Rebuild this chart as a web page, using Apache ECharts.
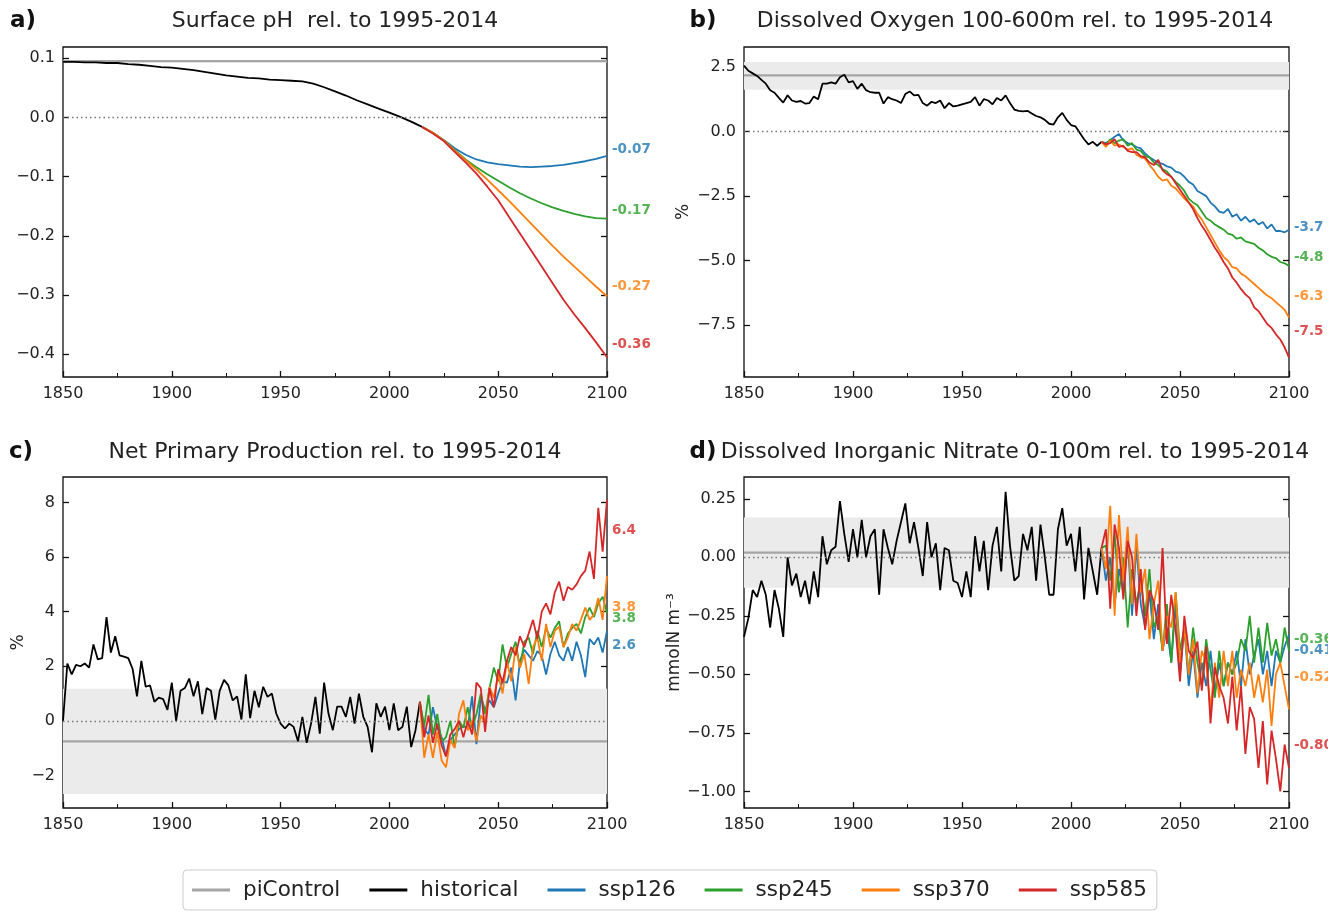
<!DOCTYPE html>
<html><head><meta charset="utf-8">
<script src="https://cdn.jsdelivr.net/npm/echarts@6/dist/echarts.min.js"></script>
<style>html,body{margin:0;padding:0;background:#fff}#chart{width:1328px;height:911px}</style>
</head><body><div id="chart"></div>
<script>
// ---------- DATA ----------
const legendNames = ['piControl','historical','ssp126','ssp245','ssp370','ssp585'];
const scenarioNames = ['ssp126','ssp245','ssp370','ssp585'];

// Panel a: Surface pH (5-year samples; historical from 1850, scenarios from 2015)
const phHist = [0.094,0.094,0.093,0.093,0.092,0.092,0.090,0.089,0.087,0.085,
  0.084,0.082,0.080,0.077,0.074,0.071,0.069,0.067,0.066,0.064,
  0.063,0.062,0.061,0.057,0.051,0.044,0.037,0.029,0.022,0.015,
  0.008,0.001,-0.007,-0.016];
const phSsp126 = [-0.016,-0.026,-0.038,-0.052,-0.063,-0.071,-0.076,-0.079,-0.081,-0.083,-0.084,-0.083,-0.082,-0.080,-0.077,-0.074,-0.070,-0.065];
const phSsp245 = [-0.016,-0.026,-0.039,-0.055,-0.071,-0.084,-0.096,-0.107,-0.118,-0.128,-0.137,-0.145,-0.152,-0.158,-0.163,-0.167,-0.170,-0.171];
const phSsp370 = [-0.016,-0.026,-0.039,-0.056,-0.072,-0.088,-0.105,-0.123,-0.141,-0.160,-0.179,-0.198,-0.217,-0.235,-0.252,-0.269,-0.286,-0.302];
const phSsp585 = [-0.016,-0.027,-0.040,-0.058,-0.076,-0.095,-0.117,-0.140,-0.168,-0.196,-0.224,-0.252,-0.280,-0.308,-0.333,-0.356,-0.380,-0.405];

// Panel b: Dissolved oxygen (2-year samples; historical 1850-2014, scenarios 2014-2100)
const oxyHist = [2.55,2.35,2.25,2.15,2.0,1.85,1.6,1.5,1.3,1.12,
  1.4,1.2,1.15,1.18,1.08,1.1,1.35,1.25,1.85,1.85,
  1.9,1.85,2.1,2.2,1.9,1.95,1.65,1.85,1.6,1.52,
  1.5,1.5,1.08,1.33,1.25,1.2,1.1,1.45,1.55,1.4,
  1.42,1.1,1.0,1.15,1.1,1.2,0.9,1.1,0.97,1.0,
  1.05,1.1,1.15,1.33,1.0,1.25,1.2,1.05,1.3,1.2,
  1.4,1.1,0.85,0.8,0.78,0.8,0.7,0.6,0.55,0.45,
  0.3,0.27,0.55,0.72,0.45,0.25,0.2,-0.05,-0.3,-0.5,
  -0.4,-0.55,-0.4];
const oxySsp126 = [-0.4,-0.45,-0.35,-0.2,-0.1,-0.35,-0.45,-0.5,-0.6,-0.65,
  -0.85,-1.0,-1.1,-1.2,-1.25,-1.35,-1.4,-1.55,-1.6,-1.75,
  -1.95,-2.05,-2.3,-2.4,-2.5,-2.75,-2.9,-3.1,-3.15,-3.0,
  -3.3,-3.2,-3.45,-3.3,-3.5,-3.4,-3.6,-3.5,-3.75,-3.6,
  -3.85,-3.85,-3.9,-3.8];
const oxySsp245 = [-0.4,-0.5,-0.3,-0.45,-0.35,-0.3,-0.55,-0.45,-0.7,-0.75,
  -0.95,-1.0,-1.2,-1.3,-1.45,-1.55,-1.75,-1.95,-2.1,-2.3,
  -2.6,-2.75,-2.85,-3.1,-3.35,-3.45,-3.6,-3.7,-3.8,-3.95,
  -4.0,-4.15,-4.1,-4.25,-4.3,-4.35,-4.5,-4.6,-4.75,-4.85,
  -4.9,-5.05,-5.1,-5.2];
const oxySsp370 = [-0.4,-0.6,-0.35,-0.55,-0.5,-0.6,-0.7,-0.65,-0.9,-1.0,
  -1.05,-1.3,-1.5,-1.75,-1.9,-1.85,-2.1,-2.2,-2.4,-2.6,
  -2.75,-2.9,-3.2,-3.4,-3.7,-4.0,-4.3,-4.6,-4.85,-5.0,
  -5.25,-5.3,-5.5,-5.6,-5.75,-5.9,-6.05,-6.2,-6.35,-6.45,
  -6.6,-6.75,-6.9,-7.2];
const oxySsp585 = [-0.4,-0.5,-0.45,-0.3,-0.6,-0.55,-0.75,-0.8,-0.8,-0.95,
  -1.0,-1.2,-1.3,-1.1,-1.5,-1.65,-1.75,-2.0,-2.25,-2.5,
  -2.75,-3.0,-3.35,-3.65,-3.9,-4.2,-4.5,-4.75,-5.05,-5.3,
  -5.65,-5.85,-6.1,-6.3,-6.45,-6.8,-6.95,-7.2,-7.45,-7.6,
  -7.85,-8.05,-8.35,-8.75];

// Panel c: Net primary production
const nppHist = [0.0,2.1,1.7,2.05,2.0,2.1,1.95,2.8,2.25,2.3,
  3.8,2.5,3.1,2.4,2.35,2.3,1.9,0.9,2.2,1.25,
  1.3,0.7,0.85,0.8,0.4,1.4,0.0,1.1,1.2,1.55,
  0.9,1.45,0.25,1.2,1.1,0.05,1.1,1.5,1.3,0.75,
  0.9,0.05,1.7,0.1,1.1,0.5,1.25,0.88,1.0,0.27,
  -0.1,-0.28,-0.1,-0.22,-0.75,0.15,-0.8,-0.1,0.88,-0.47,
  1.4,0.27,-0.34,0.52,0.52,0.15,0.88,-0.1,1.0,0.15,
  -0.22,-1.15,0.64,0.15,0.52,-0.34,0.64,-0.34,-0.22,0.52,
  -0.96,-0.34,0.7];
const nppSsp126 = [0.7,-0.3,-0.5,0.5,-0.25,-0.6,-1.3,-0.7,-0.5,-0.3,
  -0.2,-0.25,0.9,-0.85,0.85,0.4,0.75,0.5,1.0,1.45,
  1.4,1.95,0.75,2.2,2.6,2.4,2.2,2.55,2.4,1.7,
  2.45,2.9,2.4,2.2,2.7,2.2,2.9,2.4,1.6,3.0,
  2.8,3.05,2.5,3.3];
const nppSsp245 = [0.7,-0.2,0.95,-0.5,0.25,-0.75,-0.6,0.0,-0.95,0.0,
  -0.25,0.5,-0.25,0.25,1.0,0.25,1.2,1.95,1.45,2.8,
  1.95,2.45,2.9,1.95,2.9,3.05,2.45,3.3,2.7,3.4,
  3.05,3.4,3.65,2.7,3.2,3.4,3.55,3.2,3.8,4.15,
  3.8,4.3,4.55,3.95];
const nppSsp370 = [0.7,-1.35,-0.5,-1.35,-0.4,-1.45,-1.7,-0.7,-1.0,0.25,
  0.75,-0.35,0.0,-0.75,0.2,-0.1,1.25,0.85,1.7,1.0,
  2.2,1.45,2.7,1.95,2.45,1.35,2.7,3.05,2.2,3.55,
  2.7,3.3,3.45,2.7,3.05,3.55,3.3,3.7,4.15,3.7,
  3.9,4.5,3.7,5.3];
const nppSsp585 = [0.7,-0.6,0.2,-0.8,-0.1,-0.9,-1.3,-0.5,-0.3,0.0,
  -0.6,0.0,-0.5,1.4,1.2,-0.4,1.2,0.5,1.9,1.4,
  2.2,2.7,2.4,3.1,2.7,3.2,3.7,3.0,4.0,4.3,
  3.9,4.7,5.1,4.4,4.9,4.8,5.0,5.3,5.5,6.2,
  5.2,7.8,6.2,8.1];

// Panel d: Dissolved inorganic nitrate 0-100m
const no3Hist = [-0.34,-0.26,-0.14,-0.17,-0.1,-0.16,-0.3,-0.14,-0.22,-0.34,
  0.0,-0.12,-0.07,-0.17,-0.1,-0.2,-0.06,-0.17,0.09,-0.03,
  0.03,0.045,0.24,0.1,-0.02,0.12,0.0,0.16,0.0,0.09,
  0.12,-0.16,0.12,0.04,-0.03,0.07,0.15,0.23,0.06,0.15,
  0.04,-0.08,0.15,0.0,0.06,-0.14,0.04,0.03,-0.1,-0.11,
  -0.17,-0.06,-0.17,0.09,-0.06,0.07,-0.14,0.05,0.13,-0.06,
  0.28,0.05,-0.1,-0.08,0.1,0.03,0.13,-0.1,0.14,0.0,
  -0.16,-0.16,0.12,0.21,0.05,0.1,-0.06,0.13,-0.18,0.04,
  -0.06,-0.16,0.04];
const no3Ssp126 = [0.04,-0.1,0.0,-0.2,-0.05,-0.15,0.08,-0.25,0.05,-0.2,
  -0.3,-0.15,-0.35,-0.2,-0.4,-0.3,-0.45,-0.2,-0.5,-0.3,
  -0.55,-0.4,-0.6,-0.45,-0.55,-0.4,-0.58,-0.45,-0.55,-0.45,
  -0.5,-0.4,-0.55,-0.35,-0.5,-0.42,-0.35,-0.5,-0.4,-0.55,
  -0.4,-0.45,-0.38,-0.33];
const no3Ssp245 = [0.04,0.05,-0.1,0.1,-0.15,0.0,-0.3,-0.05,-0.2,-0.1,
  -0.25,-0.05,-0.3,-0.25,-0.4,-0.2,-0.45,-0.15,-0.4,-0.3,
  -0.5,-0.3,-0.45,-0.55,-0.35,-0.48,-0.6,-0.4,-0.55,-0.45,
  -0.5,-0.45,-0.35,-0.4,-0.25,-0.45,-0.3,-0.45,-0.28,-0.42,
  -0.35,-0.45,-0.3,-0.4];
const no3Ssp370 = [0.04,-0.05,0.22,-0.25,0.18,-0.1,0.13,-0.2,0.1,-0.15,
  -0.05,-0.35,-0.2,-0.1,-0.4,-0.25,-0.3,-0.15,-0.45,-0.3,
  -0.5,-0.35,-0.58,-0.4,-0.45,-0.65,-0.45,-0.6,-0.4,-0.55,
  -0.4,-0.6,-0.48,-0.55,-0.45,-0.6,-0.5,-0.62,-0.48,-0.72,
  -0.5,-0.45,-0.55,-0.65];
const no3Ssp585 = [0.04,0.12,-0.22,0.14,0.04,-0.18,0.07,0.0,-0.25,-0.05,
  -0.31,-0.14,-0.19,-0.31,0.04,-0.37,-0.16,-0.31,-0.53,-0.25,
  -0.4,-0.43,-0.36,-0.57,-0.38,-0.71,-0.47,-0.55,-0.6,-0.71,
  -0.51,-0.74,-0.55,-0.84,-0.64,-0.69,-0.9,-0.7,-0.97,-0.74,
  -0.86,-1.0,-0.8,-0.9];

// piControl mean and spread, per panel a-d
const piControlMean = [0.095, 2.17, -0.75, 0.02];
const piControlLow  = [0.093, 1.62, -2.68, -0.13];
const piControlHigh = [0.097, 2.69, 1.18, 0.17];

// 2081-2100 change labels (order: ssp126, ssp245, ssp370, ssp585) and their anchor values
const endLabelText = [
  ['-0.07','-0.17','-0.27','-0.36'],
  ['-3.7','-4.8','-6.3','-7.5'],
  ['2.6','3.8','3.8','6.4'],
  ['-0.41','-0.36','-0.52','-0.80']
];
const endLabelAnchor = [
  [-0.054,-0.157,-0.285,-0.384],
  [-3.72,-4.88,-6.40,-7.75],
  [2.76,3.75,4.15,6.98],
  [-0.398,-0.351,-0.514,-0.805]
];

// tick values and labels
const yTicksA = [0.1,0.0,-0.1,-0.2,-0.3,-0.4];
const yLabelsA = ['0.1','0.0','\u22120.1','\u22120.2','\u22120.3','\u22120.4'];
const yTicksB = [2.5,0,-2.5,-5,-7.5];
const yLabelsB = ['2.5','0.0','\u22122.5','\u22125.0','\u22127.5'];
const yTicksC = [8,6,4,2,0,-2];
const yLabelsC = ['8','6','4','2','0','\u22122'];
const yTicksD = [0.25,0,-0.25,-0.5,-0.75,-1.0];
const yLabelsD = ['0.25','0.00','\u22120.25','\u22120.50','\u22120.75','\u22121.00'];
const titles = ['Surface pH  rel. to 1995-2014','Dissolved Oxygen 100-600m rel. to 1995-2014',
  'Net Primary Production rel. to 1995-2014','Dissolved Inorganic Nitrate 0-100m rel. to 1995-2014'];
const tags = ['a)','b)','c)','d)'];
const yNames = ['', '%', '%', 'mmolN m\u207B\u00B3'];

// ---------- LAYOUT / STYLE ----------
const FONT = '"DejaVu Sans", sans-serif';
const colors = {piControl:'#a5a5a5', historical:'#000000', ssp126:'#1f77b4', ssp245:'#2ca02c', ssp370:'#ff7f0e', ssp585:'#d62728'};
const panels = [
  {grid:{left:63, top:47, width:544, height:330}, ymin:-0.4385, ymax:0.119, ticks:yTicksA, labels:yLabelsA,
   hist:phHist, histStart:1850, histStep:5, scen:[phSsp126,phSsp245,phSsp370,phSsp585], scenStart:2015, scenStep:5,
   titleX:335, titleY:21, tagX:23, nameGap:50},
  {grid:{left:744, top:47, width:545, height:330}, ymin:-9.5, ymax:3.27, ticks:yTicksB, labels:yLabelsB,
   hist:oxyHist, histStart:1850, histStep:2, scen:[oxySsp126,oxySsp245,oxySsp370,oxySsp585], scenStart:2014, scenStep:2,
   titleX:1015, titleY:21, tagX:703, nameGap:52},
  {grid:{left:63, top:477, width:544, height:331}, ymin:-3.19, ymax:8.93, ticks:yTicksC, labels:yLabelsC,
   hist:nppHist, histStart:1850, histStep:2, scen:[nppSsp126,nppSsp245,nppSsp370,nppSsp585], scenStart:2014, scenStep:2,
   titleX:335, titleY:452, tagX:21, nameGap:36},
  {grid:{left:744, top:477, width:545, height:331}, ymin:-1.071, ymax:0.343, ticks:yTicksD, labels:yLabelsD,
   hist:no3Hist, histStart:1850, histStep:2, scen:[no3Ssp126,no3Ssp245,no3Ssp370,no3Ssp585], scenStart:2014, scenStep:2,
   titleX:1015, titleY:452, tagX:703, nameGap:58}
];

function pairs(vals, start, step){ return vals.map((v,i)=>[start+i*step, v]); }
function labelFormatter(ticks, labels){
  return function(v){ let b=0; for(let k=1;k<ticks.length;k++){ if(Math.abs(ticks[k]-v)<Math.abs(ticks[b]-v)) b=k; } return labels[b]; };
}

const grids=[], xAxes=[], yAxes=[], series=[], graphics=[];
panels.forEach((p,i)=>{
  grids.push(Object.assign({show:true, borderColor:'#111', borderWidth:1.3, backgroundColor:'transparent'}, p.grid));
  xAxes.push({type:'value', gridIndex:i, min:1850, max:2100, interval:50, position:'bottom',
    axisLine:{show:false, onZero:false}, splitLine:{show:false},
    axisTick:{show:true, inside:true, length:6, lineStyle:{color:'#111', width:1.3}},
    minorTick:{show:true, splitNumber:2, length:4, lineStyle:{color:'#111', width:1}},
    minorSplitLine:{show:false},
    axisLabel:{fontSize:16, color:'#222', fontFamily:FONT, margin:9, formatter:v=>String(v)}});
  const common = {type:'value', gridIndex:i, min:p.ymin, max:p.ymax, axisLine:{show:false, onZero:false}, splitLine:{show:false},
    axisTick:{show:true, inside:true, length:6, lineStyle:{color:'#111', width:1.3}, customValues:p.ticks}};
  yAxes.push(Object.assign({}, common, {position:'left',
    axisLabel:{show:true, customValues:p.ticks, formatter:labelFormatter(p.ticks,p.labels), fontSize:16, color:'#222', fontFamily:FONT, margin:8},
    name:yNames[i], nameLocation:'middle', nameRotate:90, nameGap:p.nameGap,
    nameTextStyle:{fontSize:17, color:'#222', fontFamily:FONT}}));
  yAxes.push(Object.assign({}, common, {position:'right', axisLabel:{show:false}}));
  const xi=i, yi=2*i;
  series.push({type:'line', name:'pibandhelper', xAxisIndex:xi, yAxisIndex:yi, data:[], silent:true, z:1,
    markArea:{silent:true, itemStyle:{color:'#ebebeb'}, data:[[{yAxis:piControlLow[i]},{yAxis:piControlHigh[i]}]]}});
  series.push({type:'line', name:'piControl', xAxisIndex:xi, yAxisIndex:yi,
    data:[[1850,piControlMean[i]],[2100,piControlMean[i]]], symbol:'none', silent:true, z:2,
    lineStyle:{color:colors.piControl, width:2.2}, itemStyle:{color:colors.piControl},
    markLine:{silent:true, symbol:'none', label:{show:false}, lineStyle:{color:'#777', type:[1.5,3], width:1.3},
      data:[{yAxis:0}]}});
  series.push({type:'line', name:'historical', xAxisIndex:xi, yAxisIndex:yi, data:pairs(p.hist,p.histStart,p.histStep),
    symbol:'none', silent:true, z:3, lineStyle:{color:colors.historical, width:1.8}, itemStyle:{color:colors.historical}});
  scenarioNames.forEach((s,k)=>{
    series.push({type:'line', name:s, xAxisIndex:xi, yAxisIndex:yi, data:pairs(p.scen[k],p.scenStart,p.scenStep),
      symbol:'none', silent:true, z:4+k, lineStyle:{color:colors[s], width:1.8}, itemStyle:{color:colors[s]}});
  });
  series.push({type:'scatter', name:'endlabels'+i, xAxisIndex:xi, yAxisIndex:yi, symbolSize:0, silent:true, clip:false, z:10,
    data:endLabelAnchor[i].map((v,k)=>({value:[2100,v], label:{color:colors[scenarioNames[k]]}})),
    label:{show:true, position:'right', distance:5, fontSize:13.5, fontWeight:'bold', fontFamily:FONT,
      formatter:(prm)=>endLabelText[i][prm.dataIndex]}});
  graphics.push({type:'text', x:p.titleX, y:p.titleY, silent:true,
    style:{text:titles[i], fill:'#222', fontSize:22, fontFamily:FONT, align:'center', verticalAlign:'middle', textAlign:'center', textVerticalAlign:'middle'}});
  graphics.push({type:'text', x:p.tagX, y:p.titleY, silent:true,
    style:{text:tags[i], fill:'#111', fontSize:23, fontWeight:'bold', fontFamily:FONT, align:'center', verticalAlign:'middle', textAlign:'center', textVerticalAlign:'middle'}});
});

const chart = echarts.init(document.getElementById('chart'), null, {renderer:'canvas'});
chart.setOption({
  animation:false,
  backgroundColor:'#ffffff',
  textStyle:{fontFamily:FONT},
  grid:grids, xAxis:xAxes, yAxis:yAxes, series:series, graphic:graphics,
  legend:{data:legendNames, left:183, top:870, icon:'rect', itemWidth:38, itemHeight:3, itemGap:29,
    textStyle:{fontSize:21.5, color:'#222', fontFamily:FONT, padding:[0,0,0,8]},
    borderColor:'#cccccc', borderWidth:1, borderRadius:4, padding:[9,10,9,9], selectedMode:false}
});
</script></body></html>
